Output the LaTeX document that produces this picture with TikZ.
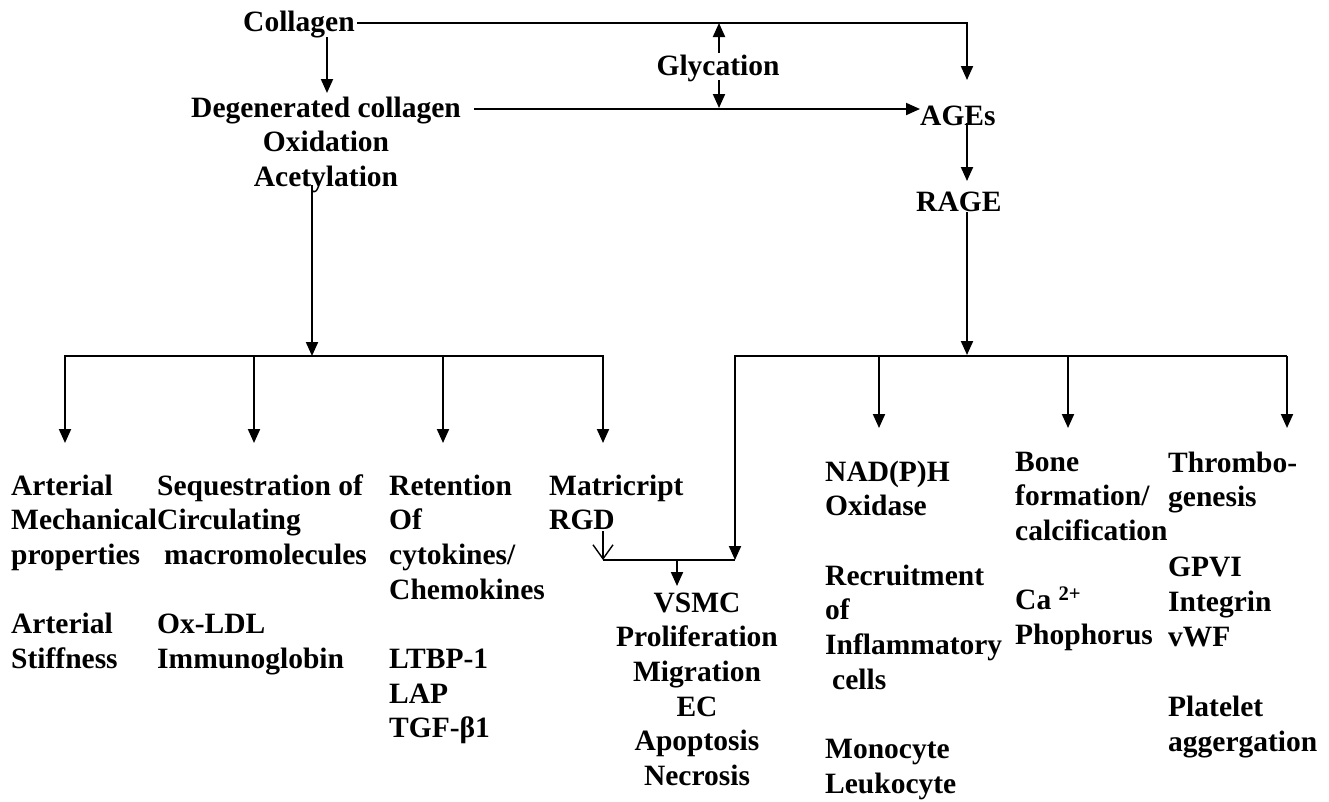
\documentclass[tikz,border=0pt]{standalone}
\usepackage{fontspec}
\setmainfont{Liberation Serif}
\usetikzlibrary{arrows.meta}
\newcommand\lstack[1]{\begin{tabular}[t]{@{}l@{}}#1\end{tabular}}
\newcommand\cstack[1]{\begin{tabular}[t]{@{}c@{}}#1\end{tabular}}
\begin{document}
\begin{tikzpicture}[x=1pt,y=-1pt,
  txt/.style={inner sep=0pt, font=\fontsize{29.5}{34.7}\selectfont\bfseries},
  ln/.style={line width=2pt},
  arr/.style={ln,-{Triangle[length=14pt,width=12pt]}},
  openarr/.style={line width=1.4pt,-{Straight Barb[length=14pt,width=20pt]}}]
\useasboundingbox (0,0) rectangle (1329,801);
\fill[white] (0,0) rectangle (1329,801);

% top texts
\node[txt,anchor=base west] (collagen) at (243,31) {Collagen};
\node[txt,anchor=base] (degen) at (326,117) {\cstack{Degenerated collagen\\Oxidation\\Acetylation}};
\node[txt,anchor=base] (glyc) at (718,75) {Glycation};
\node[txt,anchor=base west] (ages) at (920,125) {AGEs};
\node[txt,anchor=base west] (rage) at (916,211) {RAGE};

% bottom columns
\node[txt,anchor=base west] (c1) at (11,495) {\lstack{Arterial\\Mechanical\\properties\\ \\Arterial\\Stiffness}};
\node[txt,anchor=base west] (c2) at (157,495) {\lstack{Sequestration of\\Circulating\\\hspace{7pt}macromolecules\\ \\Ox-LDL\\Immunoglobin}};
\node[txt,anchor=base west] (c3) at (389,495) {\lstack{Retention\\Of\\cytokines/\\Chemokines\\ \\LTBP-1\\LAP\\TGF-β1}};
\node[txt,anchor=base west] (c4) at (549,495) {\lstack{Matricript\\RGD}};
\node[txt,anchor=base] (vsmc) at (697,612) {\cstack{VSMC\\Proliferation\\Migration\\EC\\Apoptosis\\Necrosis}};
\node[txt,anchor=base west] (c5) at (825,481) {\lstack{NAD(P)H\\Oxidase\\ \\Recruitment\\of\\Inflammatory\\\hspace{7pt}cells\\ \\Monocyte\\Leukocyte}};
\node[txt,anchor=base west] (c6) at (1015,471) {\lstack{Bone\\formation/\\calcification\\ \\Ca \textsuperscript{2+}\\Phophorus}};
\node[txt,anchor=base west,font=\fontsize{29.5}{34.9}\selectfont\bfseries] (c7) at (1168,472) {\lstack{Thrombo-\\genesis\\ \\GPVI\\Integrin\\vWF\\ \\Platelet\\aggergation}};

% coordinates
\coordinate (cR) at (357,22.5);
\coordinate (cC) at (967,22.5);
\coordinate (cT) at (967,80);
\coordinate (cd1) at (327,37);
\coordinate (cd2) at (327,93);
\coordinate (dR) at (474,109);
\coordinate (dT) at (920,109);
\coordinate (g1) at (719,53);
\coordinate (g1t) at (719,23);
\coordinate (g2) at (719,80);
\coordinate (g2t) at (719,108);
\coordinate (a1) at (967,123);
\coordinate (a2) at (967,181);
\coordinate (r1) at (967,212);
\coordinate (r2) at (967,355);
\coordinate (bRl) at (735,356);
\coordinate (bRr) at (1287,356);
\coordinate (bR1) at (879,356);
\coordinate (bR2) at (1068,356);
\coordinate (tR1) at (879,428);
\coordinate (tR2) at (1068,428);
\coordinate (tR3) at (1287,428);
\coordinate (m1) at (603,560);
\coordinate (m2) at (735,560);
\coordinate (mc) at (677,560);
\coordinate (mt) at (677,586);
\coordinate (rg1) at (603,531);
\coordinate (l1) at (312,185);
\coordinate (l2) at (312,356);
\coordinate (b1) at (65,356);
\coordinate (b2) at (254,356);
\coordinate (b3) at (443,356);
\coordinate (b4) at (603,356);
\coordinate (t1) at (65,443);
\coordinate (t2) at (254,443);
\coordinate (t3) at (443,443);
\coordinate (t4) at (603,443);

% connectors (top)
\draw[arr] (cR) -- (cC) -- (cT);
\draw[arr] (cd1) -- (cd2);
\draw[arr] (dR) -- (dT);
\draw[arr] (g1) -- (g1t);
\draw[arr] (g2) -- (g2t);
\draw[arr] (a1) -- (a2);
\draw[arr] (r1) -- (r2);

% right bus
\draw[arr] (bRr) -- (bRl) -- (m2);
\draw[arr] (bRr) -- (tR3);
\draw[arr] (bR1) -- (tR1);
\draw[arr] (bR2) -- (tR2);

% left bus
\draw[arr] (l1) -- (l2);
\draw[ln,line cap=rect] (b1) -- (b4);
\draw[arr] (b1) -- (t1);
\draw[arr] (b2) -- (t2);
\draw[arr] (b3) -- (t3);
\draw[arr] (b4) -- (t4);

% merge to VSMC
\draw[openarr] (rg1) -- (m1);
\draw[ln] (m1) -- (m2);
\draw[arr] (mc) -- (mt);
\end{tikzpicture}
\end{document}
